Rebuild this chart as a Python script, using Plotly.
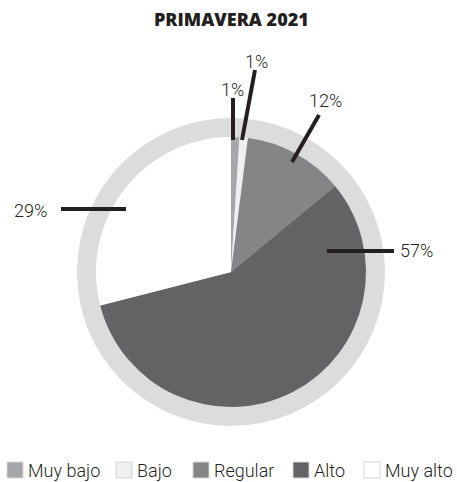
import plotly.graph_objects as go

categories = ["Muy bajo", "Bajo", "Regular", "Alto", "Muy alto"]
values = [1, 1, 12, 57, 29]
colors = ["#a7a7a9", "#f0f0f2", "#858588", "#636365", "#ffffff"]
title_text = "PRIMAVERA 2021"

W, H = 457, 482
FONT = "Roboto, sans-serif"
INK = "#231f20"

def px(x):
    return x / W

def py(y):
    return 1 - y / H

cx, cy = 231, 272
r_pie, r_ring = 135, 154

fig = go.Figure()
# grey ring behind the pie
fig.add_trace(go.Pie(
    values=[1], labels=["ring"], marker=dict(colors=["#dcdcdd"], line=dict(width=0)),
    domain=dict(x=[px(cx - r_ring), px(cx + r_ring)], y=[py(cy + r_ring), py(cy - r_ring)]),
    textinfo="none", hoverinfo="skip", showlegend=False, sort=False,
))
fig.add_trace(go.Pie(
    values=values, labels=categories,
    marker=dict(colors=colors, line=dict(width=0)),
    domain=dict(x=[px(cx - r_pie), px(cx + r_pie)], y=[py(cy + r_pie), py(cy - r_pie)]),
    textinfo="none", sort=False, direction="clockwise", rotation=0,
    showlegend=False,
))

# leader lines (pixel layout) and labels, one per category
leaders = [
    ((233, 140), (233, 98), (232, 89), "center"),
    ((242, 140), (255, 70), (256, 61), "center"),
    ((292, 162), (319, 115), (325, 100), "center"),
    ((327, 251), (394, 251), (398, 250), "left"),
    ((126, 209), (61, 209), (49, 210), "right"),
]
shapes = []
annotations = []
for v, (p0, p1, lp, anchor) in zip(values, leaders):
    shapes.append(dict(type="line", xref="paper", yref="paper",
                       x0=px(p0[0]), y0=py(p0[1]), x1=px(p1[0]), y1=py(p1[1]),
                       line=dict(color=INK, width=4)))
    annotations.append(dict(text=f"{v}%", xref="paper", yref="paper",
                            x=px(lp[0]), y=py(lp[1]), xanchor=anchor, yanchor="middle",
                            showarrow=False,
                            font=dict(family=FONT, size=18, color=INK, weight=300)))

# manual legend
legend_x = [7, 116, 193, 293, 364]
sq = 16
ly = 470
for name, col, lx in zip(categories, colors, legend_x):
    shapes.append(dict(type="rect", xref="paper", yref="paper",
                       x0=px(lx), x1=px(lx + sq), y0=py(ly + sq / 2), y1=py(ly - sq / 2),
                       fillcolor=col, line=dict(color="#d6d6d8", width=1)))
    annotations.append(dict(text=name, xref="paper", yref="paper",
                            x=px(lx + sq + 3), y=py(ly), xanchor="left", yanchor="middle",
                            showarrow=False,
                            font=dict(family=FONT, size=18, color=INK, weight=300)))

annotations.append(dict(text=title_text, xref="paper", yref="paper",
                        x=px(231), y=py(19), xanchor="center", yanchor="middle",
                        showarrow=False,
                        font=dict(family="Open Sans, Roboto, sans-serif", size=18,
                                  color=INK, weight=800)))

fig.update_layout(
    width=W, height=H, margin=dict(l=0, r=0, t=0, b=0),
    paper_bgcolor="white", plot_bgcolor="white",
    shapes=shapes, annotations=annotations, showlegend=False,
)

fig.write_html("out.html", config={"displayModeBar": False},
               post_script="document.body.style.margin='0';document.body.style.overflow='hidden';")
